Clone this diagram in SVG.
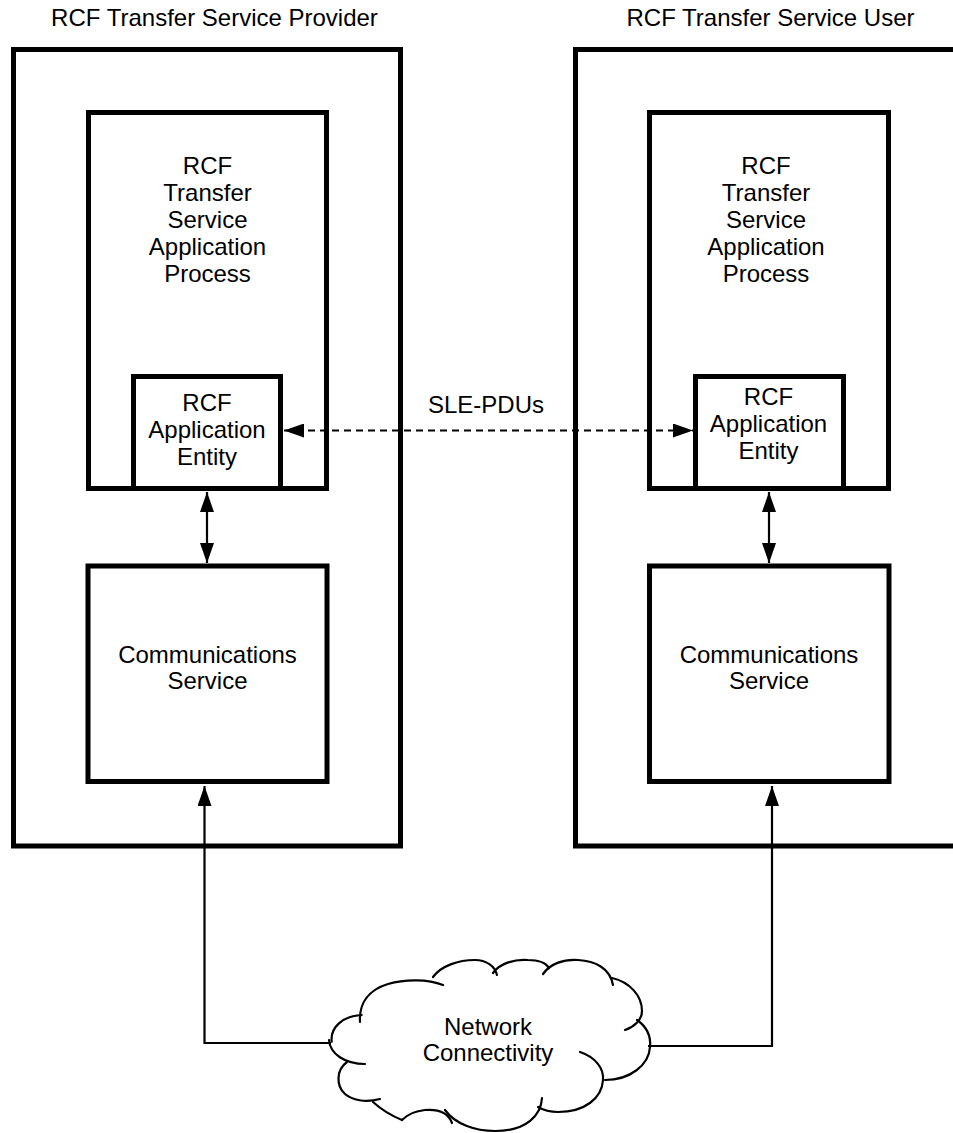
<svg xmlns="http://www.w3.org/2000/svg" width="953" height="1133" viewBox="0 0 953 1133">
<style>
  .box { fill: #ffffff; stroke: #000000; stroke-width: 5; }
  .t { font-family: "Liberation Sans", Arial, sans-serif; font-size: 24px; fill: #000000; text-anchor: middle; }
  .thin { fill: none; stroke: #000000; stroke-width: 2.2; }
  .dash { fill: none; stroke: #000000; stroke-width: 2; stroke-dasharray: 7 5; }
  .cloud { fill: none; stroke: #000000; stroke-width: 2.2; stroke-linecap: round; }
</style>
<defs>
  <marker id="ah" viewBox="0 0 20 14" refX="20" refY="7" markerWidth="20" markerHeight="14" markerUnits="userSpaceOnUse" orient="auto-start-reverse">
    <path d="M0,0 L20,7 L0,14 Z" fill="#000000"/>
  </marker>
</defs>
<rect width="953" height="1133" fill="#ffffff"/>

<g id="provider">
  <text class="t" x="214.5" y="26">RCF Transfer Service Provider</text>
  <rect class="box" x="13.5" y="49.5" width="387" height="796.5"/>
</g>
<g id="provider-ap">
  <rect class="box" x="88.5" y="112.5" width="238" height="376"/>
  <text class="t" x="207.5" y="174">RCF</text>
  <text class="t" x="207.5" y="201">Transfer</text>
  <text class="t" x="207.5" y="228">Service</text>
  <text class="t" x="207.5" y="255">Application</text>
  <text class="t" x="207.5" y="282">Process</text>
</g>
<g id="provider-ae">
  <rect class="box" x="133.5" y="376.5" width="147" height="112"/>
  <text class="t" x="207" y="411">RCF</text>
  <text class="t" x="207" y="438">Application</text>
  <text class="t" x="207" y="465">Entity</text>
</g>
<g id="provider-cs">
  <rect class="box" x="88" y="566" width="239" height="215.5"/>
  <text class="t" x="207.5" y="663">Communications</text>
  <text class="t" x="207.5" y="689">Service</text>
</g>

<g id="user">
  <text class="t" x="770.5" y="26">RCF Transfer Service User</text>
  <rect class="box" x="575.5" y="49.5" width="400" height="796.5"/>
</g>
<g id="user-ap">
  <rect class="box" x="649.5" y="112.5" width="239" height="376"/>
  <text class="t" x="766" y="174">RCF</text>
  <text class="t" x="766" y="201">Transfer</text>
  <text class="t" x="766" y="228">Service</text>
  <text class="t" x="766" y="255">Application</text>
  <text class="t" x="766" y="282">Process</text>
</g>
<g id="user-ae">
  <rect class="box" x="695.5" y="376.5" width="148" height="112"/>
  <text class="t" x="768.5" y="405">RCF</text>
  <text class="t" x="768.5" y="432">Application</text>
  <text class="t" x="768.5" y="459">Entity</text>
</g>
<g id="user-cs">
  <rect class="box" x="649.5" y="566" width="239.5" height="215.5"/>
  <text class="t" x="769" y="663">Communications</text>
  <text class="t" x="769" y="689">Service</text>
</g>

<g id="network">
  <path class="cloud" d="M331.7,1041.7 C330,1028 342,1016 361.7,1015"/>
  <path class="cloud" d="M360,1022 C359,1004 368,990 388,984 C405,979 428,979 443,985"/>
  <path class="cloud" d="M433,977 C441,966 458,960 475,960 C486,960 495,966 497,975"/>
  <path class="cloud" d="M493,973 C500,963 515,959 528,960 C538,960 546,963 549,968"/>
  <path class="cloud" d="M543,974 C550,964 563,959 578,960 C595,961 610,968 613,985"/>
  <path class="cloud" d="M612,978 C630,982 642,996 642,1011 C642,1020 634,1027 625,1030"/>
  <path class="cloud" d="M637,1020 C647,1027 651,1037 650,1047 C649,1065 630,1080 605,1080"/>
  <path class="cloud" d="M580,1052 C595,1057 604,1068 603,1080 C602,1098 585,1112 558,1112 C550,1112 543,1110 538,1107"/>
  <path class="cloud" d="M542,1098 C541,1115 527,1131 495,1131 C475,1131 455,1124 445,1110"/>
  <path class="cloud" d="M452,1123 C448,1112 438,1109 425,1110 C415,1111 407,1115 402,1120"/>
  <path class="cloud" d="M373,1102 C383,1111 392,1116 402,1120"/>
  <path class="cloud" d="M347,1062 C336,1070 336,1086 345,1094 C352,1100 365,1103 380,1099"/>
  <path class="cloud" d="M329,1040 C330,1054 345,1064 365,1064"/>
  <text class="t" x="488" y="1035">Network</text>
  <text class="t" x="488" y="1061">Connectivity</text>
</g>

<g id="connectors">
  <path class="dash" d="M284,430.5 L693,430.5" marker-start="url(#ah)" marker-end="url(#ah)"/>
  <text class="t" x="486" y="413">SLE-PDUs</text>
  <path class="thin" d="M207,492 L207,563" marker-start="url(#ah)" marker-end="url(#ah)"/>
  <path class="thin" d="M769,492 L769,563" marker-start="url(#ah)" marker-end="url(#ah)"/>
  <path class="thin" d="M331,1043 L204.5,1043 L204.5,786" marker-end="url(#ah)"/>
  <path class="thin" d="M648,1046 L772,1046 L772,786" marker-end="url(#ah)"/>
</g>
</svg>
